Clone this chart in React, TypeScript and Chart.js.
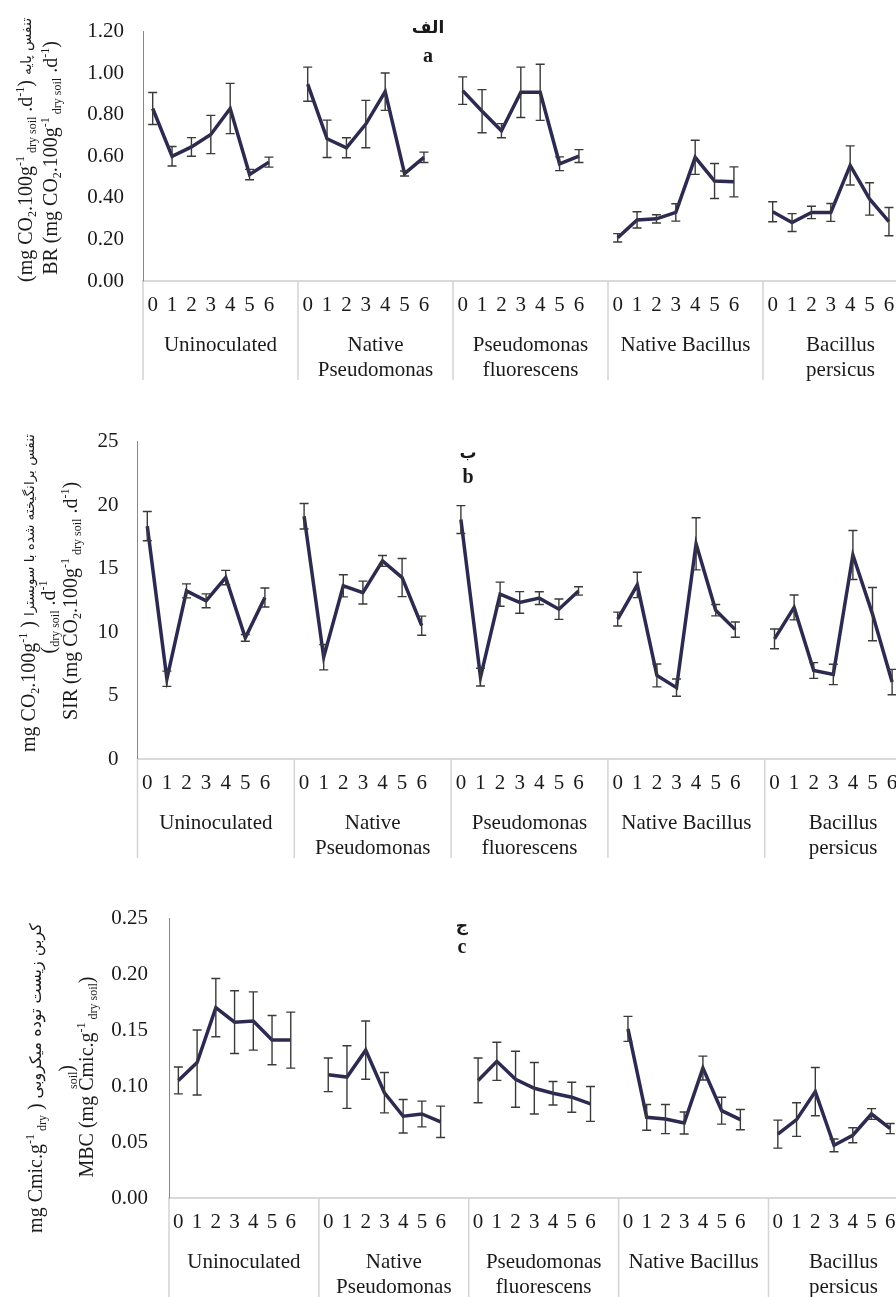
import React, { useEffect, useRef } from 'react';
import { Chart, registerables } from 'chart.js';

Chart.register(...registerables);

// ---------- data ----------
const days = ['0', '1', '2', '3', '4', '5', '6'];
const groupNames = [
  ['Uninoculated'],
  ['Native', 'Pseudomonas'],
  ['Pseudomonas', 'fluorescens'],
  ['Native Bacillus'],
  ['Bacillus', 'persicus'],
];

const brMean = [
  0.83, 0.6, 0.645, 0.705, 0.83, 0.512, 0.572,
  0.947, 0.684, 0.641, 0.755, 0.911, 0.517, 0.595,
  0.916, 0.817, 0.723, 0.908, 0.908, 0.564, 0.601,
  0.208, 0.294, 0.299, 0.33, 0.595, 0.481, 0.477,
  0.333, 0.281, 0.33, 0.33, 0.556, 0.395, 0.286,
];
const brErr = [
  0.077, 0.047, 0.045, 0.092, 0.121, 0.025, 0.024,
  0.082, 0.09, 0.048, 0.114, 0.09, 0.012, 0.025,
  0.066, 0.104, 0.034, 0.121, 0.135, 0.033, 0.031,
  0.02, 0.039, 0.02, 0.042, 0.082, 0.084, 0.072,
  0.048, 0.043, 0.03, 0.043, 0.094, 0.078, 0.068,
];

const sirMean = [
  18.34, 6.32, 13.24, 12.46, 14.29, 9.54, 12.72,
  19.12, 8.02, 13.64, 13.11, 15.6, 14.29, 10.5,
  18.86, 6.45, 12.98, 12.33, 12.67, 11.8, 13.24,
  11.02, 13.71, 6.58, 5.62, 16.95, 11.72, 10.19,
  9.46, 11.94, 6.97, 6.66, 16.07, 11.41, 6.06,
];
const sirErr = [
  1.15, 0.6, 0.55, 0.55, 0.57, 0.27, 0.75,
  1.0, 1.0, 0.87, 0.9, 0.43, 1.5, 0.75,
  1.1, 0.7, 0.95, 0.85, 0.5, 0.8, 0.33,
  0.55, 1.0, 0.9, 0.68, 2.05, 0.45, 0.6,
  0.78, 0.98, 0.62, 0.8, 1.93, 2.1, 1.0,
];

const mbcMean = [
  0.105, 0.121, 0.17, 0.157, 0.158, 0.141, 0.141,
  0.11, 0.108, 0.132, 0.094, 0.073, 0.075, 0.068,
  0.105, 0.122, 0.106, 0.098, 0.0935, 0.09, 0.084,
  0.151, 0.072, 0.0705, 0.067, 0.116, 0.078, 0.07,
  0.057, 0.07, 0.095, 0.047, 0.056, 0.075, 0.062,
];
const mbcErr = [
  0.012, 0.029, 0.026, 0.028, 0.026, 0.022, 0.025,
  0.015, 0.028, 0.026, 0.018, 0.015, 0.0115, 0.014,
  0.02, 0.017, 0.025, 0.023, 0.0105, 0.0134, 0.0156,
  0.0112, 0.0115, 0.013, 0.0098, 0.0107, 0.012, 0.009,
  0.0125, 0.015, 0.0215, 0.0057, 0.0067, 0.0048, 0.0045,
];

// ---------- helpers ----------
type Seg = { t: string; k?: 'sub' | 'sup' | 'fa' };
const S = (t: string): Seg => ({ t });
const SUB = (t: string): Seg => ({ t, k: 'sub' });
const SUP = (t: string): Seg => ({ t, k: 'sup' });
const FA = (t: string): Seg => ({ t, k: 'fa' });

const SERIF = '"Liberation Serif", "Times New Roman", serif';
const TEXT = '#1a1a1a';

function expand(arr: number[]): (number | null)[] {
  const out: (number | null)[] = [];
  for (let g = 0; g < groupNames.length; g++) {
    for (let d = 0; d < days.length; d++) out.push(arr[g * days.length + d]);
    out.push(null);
  }
  return out;
}
function buildLabels(): string[] {
  const out: string[] = [];
  for (let g = 0; g < groupNames.length; g++) {
    days.forEach((d) => out.push(d));
    out.push('');
  }
  return out;
}

function drawRich(
  ctx: CanvasRenderingContext2D,
  segs: Seg[],
  cx: number,
  cy: number,
  size: number,
  faSize: number
) {
  ctx.save();
  ctx.translate(cx, cy);
  ctx.rotate(-Math.PI / 2);
  const small = Math.round(size * 0.62);
  const fontFor = (s: Seg) =>
    s.k === 'sub' || s.k === 'sup'
      ? `${small}px ${SERIF}`
      : s.k === 'fa'
      ? `${faSize}px "DejaVu Sans", sans-serif`
      : `${size}px ${SERIF}`;
  let total = 0;
  const widths = segs.map((s) => {
    ctx.font = fontFor(s);
    const w = ctx.measureText(s.t).width;
    total += w;
    return w;
  });
  let x = -total / 2;
  ctx.textBaseline = 'middle';
  ctx.textAlign = 'left';
  ctx.fillStyle = TEXT;
  segs.forEach((s, i) => {
    ctx.font = fontFor(s);
    const dy = s.k === 'sub' ? size * 0.28 : s.k === 'sup' ? -size * 0.3 : 0;
    ctx.fillText(s.t, x, dy);
    x += widths[i];
  });
  ctx.restore();
}

const decorPlugin = {
  id: 'decor',
  afterDatasetsDraw(chart: any, _args: any, opts: any) {
    const { ctx } = chart;
    const x = chart.scales.x;
    const y = chart.scales.y;
    const ds = chart.data.datasets[0];
    const errs: (number | null)[] = opts.errors;
    ctx.save();
    ctx.strokeStyle = '#3a3a3a';
    ctx.lineWidth = 1.4;
    const cap = 4.5;
    ds.data.forEach((v: number | null, i: number) => {
      if (v == null) return;
      const e = errs[i] as number;
      const px = x.getPixelForValue(i);
      const y1 = y.getPixelForValue(v + e);
      const y2 = y.getPixelForValue(v - e);
      ctx.beginPath();
      ctx.moveTo(px, y1);
      ctx.lineTo(px, y2);
      ctx.moveTo(px - cap, y1);
      ctx.lineTo(px + cap, y1);
      ctx.moveTo(px - cap, y2);
      ctx.lineTo(px + cap, y2);
      ctx.stroke();
    });
    ctx.restore();
  },
  afterDraw(chart: any, _args: any, opts: any) {
    const { ctx, chartArea } = chart;
    const x = chart.scales.x;
    const per = days.length + 1;
    const base = chartArea.bottom;
    // group dividers
    ctx.save();
    ctx.strokeStyle = '#d6d3d0';
    ctx.lineWidth = 1.5;
    for (let g = 0; g <= groupNames.length; g++) {
      const bx = x.getPixelForValue(g * per - 0.5);
      ctx.beginPath();
      ctx.moveTo(bx, base);
      ctx.lineTo(bx, base + 99);
      ctx.stroke();
    }
    // group names
    ctx.fillStyle = TEXT;
    ctx.font = `21px ${SERIF}`;
    ctx.textAlign = 'center';
    ctx.textBaseline = 'middle';
    groupNames.forEach((lines, g) => {
      const cx = x.getPixelForValue(g * per + (per - 1) / 2);
      lines.forEach((ln, j) => ctx.fillText(ln, cx, base + 64 + j * 25));
    });
    // panel letters
    const L = opts.letters;
    ctx.font = `bold 17px "DejaVu Sans", sans-serif`;
    ctx.fillText(L.fa, L.x, L.yFa);
    ctx.font = `bold 20px ${SERIF}`;
    ctx.fillText(L.en, L.x, L.yEn);
    ctx.restore();
    // axis titles
    (opts.titles as any[]).forEach((t) => drawRich(ctx, t.segs, t.x, t.y, 20, t.fa || 15));
  },
};

// ---------- panels ----------
const panels = [
  {
    mean: brMean, err: brErr, min: 0, max: 1.2, step: 0.2, dec: 2,
    top: 0, width: 922, height: 391, padTop: 25, padRight: 4, yWidth: 143, tickPad: 19,
    letters: { fa: 'الف', en: 'a', x: 428, yFa: 29, yEn: 57 },
    titles: [
      { x: 27, y: 150, fa: 14, segs: [S('(mg CO'), SUB('2'), S('.100g'), SUP('-1'), SUB(' dry soil'), S(' .d'), SUP('-1'), S(') '), FA('تنفس پایه')] },
      { x: 52, y: 158, segs: [S('BR (mg CO'), SUB('2'), S('.100g'), SUP('-1'), SUB(' dry soil'), S(' .d'), SUP('-1'), S(')')] },
    ],
  },
  {
    mean: sirMean, err: sirErr, min: 0, max: 25, step: 5, dec: 0,
    top: 410, width: 924, height: 459, padTop: 30, padRight: 2.5, yWidth: 137.5, tickPad: 19,
    letters: { fa: 'ب', en: 'b', x: 468, yFa: 44, yEn: 68 },
    titles: [
      { x: 30, y: 183, fa: 13.5, segs: [S('mg CO'), SUB('2'), S('.100g'), SUP('-1'), S(' ) '), FA('تنفس برانگیخته شده با سوبسترا')] },
      { x: 50, y: 207, segs: [S('('), SUB('dry soil'), S(' .d'), SUP('-1')] },
      { x: 72, y: 191, segs: [S('SIR (mg CO'), SUB('2'), S('.100g'), SUP('-1'), SUB(' dry soil'), S(' .d'), SUP('-1'), S(')')] },
    ],
  },
  {
    mean: mbcMean, err: mbcErr, min: 0, max: 0.25, step: 0.05, dec: 2,
    top: 880, width: 921, height: 428, padTop: 38, padRight: 2, yWidth: 169, tickPad: 21,
    letters: { fa: 'ج', en: 'c', x: 462, yFa: 47, yEn: 68 },
    titles: [
      { x: 37, y: 198, fa: 16, segs: [S('mg Cmic.g'), SUP('-1'), SUB(' dry'), S(' ) '), FA('کربن زیست توده میکروبی')] },
      { x: 68, y: 197, segs: [SUB('soil'), S(')')] },
      { x: 88, y: 197, segs: [S('MBC (mg Cmic.g'), SUP('-1'), SUB(' dry soil'), S(')')] },
    ],
  },
];

function Panel({ p }: { p: (typeof panels)[number] }) {
  const ref = useRef<HTMLCanvasElement | null>(null);
  useEffect(() => {
    if (!ref.current) return;
    const chart = new Chart(ref.current, {
      type: 'line',
      data: {
        labels: buildLabels(),
        datasets: [
          {
            data: expand(p.mean),
            borderColor: '#2c2a50',
            borderWidth: 3.5,
            pointRadius: 0,
            pointHoverRadius: 0,
            tension: 0,
            fill: false,
            spanGaps: false,
          },
        ],
      },
      options: {
        animation: false,
        responsive: false,
        events: [],
        layout: { padding: { top: p.padTop, right: p.padRight, left: 0, bottom: 0 } },
        plugins: {
          legend: { display: false },
          tooltip: { enabled: false },
          decor: { errors: expand(p.err), letters: p.letters, titles: p.titles },
        } as any,
        scales: {
          x: {
            type: 'category',
            offset: true,
            grid: { display: false, drawTicks: false },
            border: { display: true, color: '#d9d9d9', width: 2 },
            ticks: {
              autoSkip: false,
              maxRotation: 0,
              minRotation: 0,
              padding: 12,
              color: TEXT,
              font: { family: SERIF, size: 21 },
            },
            afterFit: (s: any) => {
              s.height = 110;
            },
          },
          y: {
            min: p.min,
            max: p.max,
            grid: { display: false, drawTicks: false },
            border: { display: true, color: '#5b8fd6', width: 1 },
            ticks: {
              stepSize: p.step,
              padding: p.tickPad,
              color: TEXT,
              font: { family: SERIF, size: 21 },
              callback: (v: any) => Number(v).toFixed(p.dec),
            },
            afterFit: (s: any) => {
              s.width = p.yWidth;
            },
          },
        },
      } as any,
      plugins: [decorPlugin as any],
    });
    return () => chart.destroy();
  }, [p]);
  return (
    <canvas
      ref={ref}
      width={p.width}
      height={p.height}
      style={{ position: 'absolute', left: 0, top: p.top, width: p.width, height: p.height }}
    />
  );
}

export default function App() {
  return (
    <div
      style={{
        position: 'absolute',
        left: 0,
        top: 0,
        width: 896,
        height: 1297,
        overflow: 'hidden',
        background: '#fff',
      }}
    >
      {panels.map((p, i) => (
        <Panel key={i} p={p} />
      ))}
    </div>
  );
}
